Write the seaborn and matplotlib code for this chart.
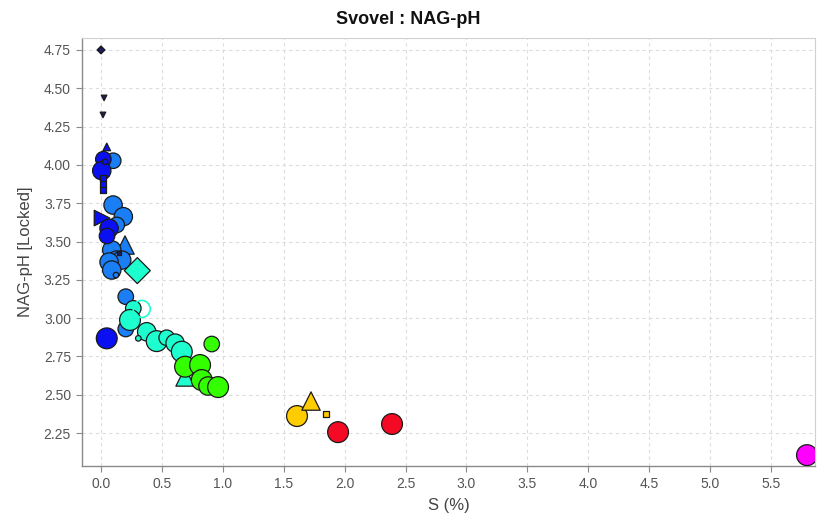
import matplotlib
matplotlib.use("Agg")
import matplotlib.pyplot as plt
import seaborn as sns
import pandas as pd

# Sulfur content (S %) and NAG-pH per sample, listed in drawing order
s_pct = [0.000, 0.025, 0.016,
         0.100,
         0.047, 0.019, 0.006, 0.033, 0.016, 0.016, 0.016, 0.008,
         0.099, 0.183, 0.129, 0.197, 0.088, 0.129, 0.170, 0.066, 0.088, 0.123, 0.148, 0.203, 0.203,
         0.066, 0.049, 0.047,
         0.298, 0.265, 0.238, 0.375, 0.306, 0.457, 0.539, 0.608, 0.663, 0.640, 0.690,
         0.909, 0.690, 0.813, 0.827, 0.878, 0.961,
         1.609, 1.724, 1.847,
         1.946, 2.389,
         5.796]
nag_ph = [4.750, 4.437, 4.326,
          4.027,
          4.117, 4.037, 3.962, 4.020, 3.915, 3.875, 3.836, 3.653,
          3.738, 3.662, 3.608, 3.477, 3.445, 3.379, 3.379, 3.366, 3.314, 3.281, 3.425, 3.140, 2.929,
          3.586, 3.536, 2.868,
          3.310, 3.064, 2.988, 2.911, 2.868, 2.850, 2.872, 2.837, 2.781, 2.694, 2.616,
          2.831, 2.683, 2.694, 2.596, 2.557, 2.550,
          2.361, 2.459, 2.374,
          2.256, 2.309,
          2.106]
s_class = ["c0", "c0", "c0",
           "c2",
           "c1", "c1", "c1", "c1", "c1", "c1", "c1", "c1",
           "c2", "c2", "c2", "c2", "c2", "c2", "c2", "c2", "c2", "c2", "c0", "c2", "c2",
           "c1", "c1", "c1",
           "c3", "c3", "c3", "c3", "c3", "c3", "c3", "c3", "c3", "c3", "c3",
           "c4", "c4", "c4", "c4", "c4", "c4",
           "c5", "c5", "c5",
           "c6", "c6",
           "c7"]
shape = ["D", "v", "v",
         "o",
         "^", "o", "o", "o", "s", "s", "s", ">",
         "o", "o", "o", "^", "o", "o", "o", "o", "o", "o", "s", "o", "o",
         "o", "o", "o",
         "D", "o", "o", "o", "o", "o", "o", "o", "o", "o", "^",
         "o", "o", "o", "o", "o", "o",
         "o", "^", "s",
         "o", "o",
         "o"]
mark_size = ["xs", "xs", "xs",
             "m",
             "s", "m", "l", "xs", "xs", "xs", "xs", "m",
             "l", "l", "m", "l", "l", "l", "l", "l", "l", "xs", "xxs", "m", "m",
             "l", "m", "xl",
             "l", "m", "xl", "l", "xs", "xl", "m", "l", "xl", "xs", "l",
             "m", "xl", "xl", "xl", "l", "xl",
             "xl", "l", "xs",
             "xl", "xl",
             "xl"]

# A sample plotted as an open ring
ring_s = [0.334]
ring_ph = [3.060]

df = pd.DataFrame({"S": s_pct, "NAG": nag_ph, "cls": s_class,
                   "shape": shape, "msize": mark_size})

palette = {"c0": "#1c1c5e", "c1": "#0a10f2", "c2": "#1a7ef4", "c3": "#1effd0",
           "c4": "#33ff00", "c5": "#ffcc00", "c6": "#f50a25", "c7": "#ff00ff"}
markers = {"o": "o", "^": "^", "v": "v", "D": "D", "s": "s", ">": ">"}
sizes = {"xxs": 8, "xs": 16, "s": 30, "m": 125, "l": 175, "xl": 225}

sns.set_theme(style="whitegrid")
plt.rcParams["font.family"] = ["Liberation Sans", "DejaVu Sans"]

fig = plt.figure(figsize=(8.17, 5.19), dpi=100)
ax = fig.add_axes([0.1004, 0.1021, 0.8972, 0.8247])

sns.scatterplot(data=df, x="S", y="NAG", hue="cls", palette=palette,
                style="shape", markers=markers, size="msize", sizes=sizes,
                edgecolor="#1a1a1a", linewidth=0.9, legend=False, ax=ax, zorder=3)
sns.scatterplot(x=ring_s, y=ring_ph, s=150, marker="o", facecolors="none",
                edgecolors="#1effd0", linewidth=1.2, ax=ax, zorder=3)

ax.set_xlim(-0.156, 5.862)
ax.set_ylim(2.035, 4.828)
ax.set_xticks([i * 0.5 for i in range(12)])
ax.set_yticks([2.25, 2.5, 2.75, 3.0, 3.25, 3.5, 3.75, 4.0, 4.25, 4.5, 4.75])
ax.set_xticklabels([f"{i * 0.5:.1f}" for i in range(12)])
ax.set_yticklabels([f"{v:.2f}" for v in [2.25, 2.5, 2.75, 3.0, 3.25, 3.5, 3.75, 4.0, 4.25, 4.5, 4.75]])

ax.set_facecolor("white")
ax.grid(True, color="#dcdcdc", linestyle=(0, (3, 3)), linewidth=0.8)
ax.set_axisbelow(True)
for side in ["left", "bottom"]:
    ax.spines[side].set_color("#8a8a8a")
    ax.spines[side].set_linewidth(1.0)
for side in ["top", "right"]:
    ax.spines[side].set_color("#d0d0d0")
    ax.spines[side].set_linewidth(0.8)

ax.tick_params(axis="both", which="major", length=4, width=0.8, color="#8a8a8a",
               labelsize=10, labelcolor="#555555", pad=4, direction="out",
               left=True, bottom=True)

ax.set_xlabel("S (%)", fontsize=12, color="#444444", labelpad=5)
ax.set_ylabel("NAG-pH [Locked]", fontsize=12, color="#444444", labelpad=8)
fig.suptitle("Svovel : NAG-pH", fontsize=13, fontweight="bold", color="#111111",
             x=0.5, y=0.978)

fig.savefig("out.png", dpi=100)
